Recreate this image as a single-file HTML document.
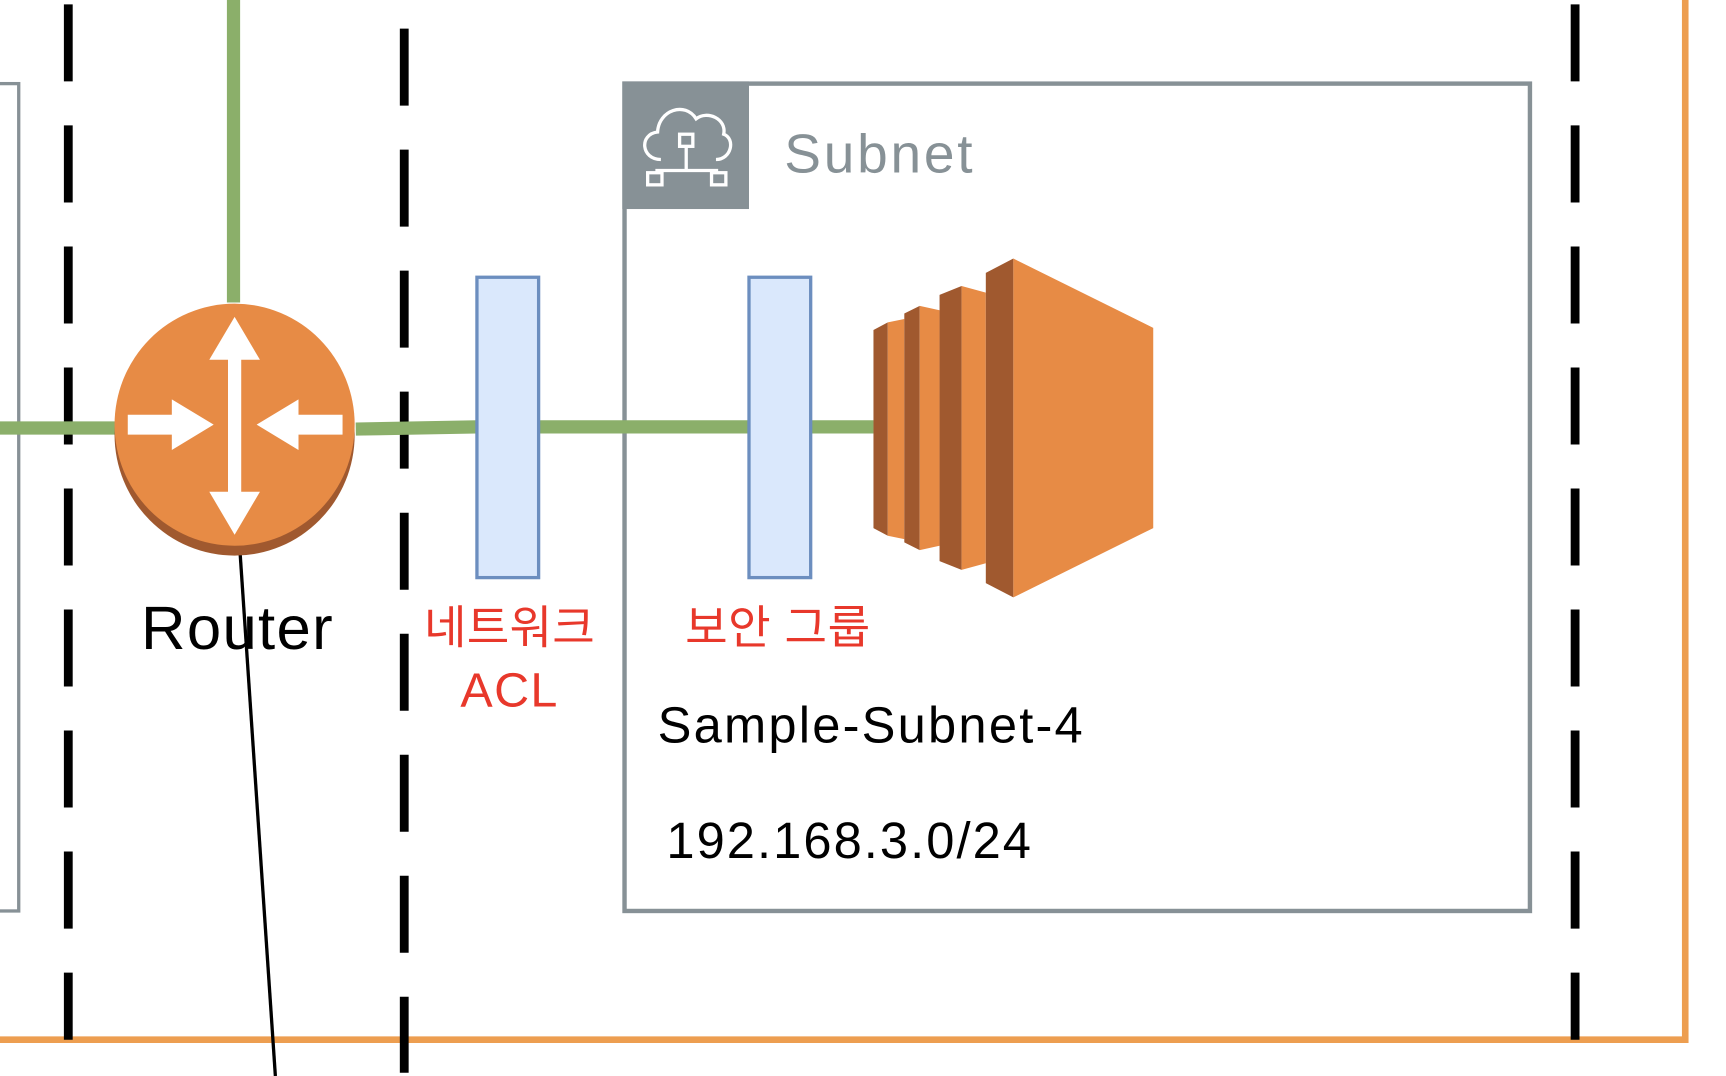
<!DOCTYPE html>
<html><head><meta charset="utf-8"><style>
html,body{margin:0;padding:0;background:#fff;width:1726px;height:1076px;overflow:hidden}
svg{display:block}
</style></head><body>
<svg width="1726" height="1076" viewBox="0 0 1567 978" preserveAspectRatio="none" xmlns="http://www.w3.org/2000/svg">
<rect width="1567" height="978" fill="#fff"/>
<rect x="-20" y="76" width="37" height="752" fill="none" stroke="#879196" stroke-width="3"/>
<path d="M0 945 H1530 V0" fill="none" stroke="#ED9E50" stroke-width="6"/>
<line x1="62" y1="4" x2="62" y2="945" stroke="#000" stroke-width="8" stroke-dasharray="70 40"/>
<line x1="367" y1="26" x2="367" y2="975" stroke="#000" stroke-width="8" stroke-dasharray="70 40"/>
<line x1="1430" y1="4" x2="1430" y2="945" stroke="#000" stroke-width="8" stroke-dasharray="70 40"/>
<rect x="567" y="76" width="822" height="752" fill="none" stroke="#879196" stroke-width="4"/>
<rect x="565" y="74" width="115" height="116" fill="#879196"/>
<g fill="none" stroke="#fff" stroke-width="3">
<path d="M600 145 C582 145 580 122 597 120 C598 100 622 92 632 108 C642 100 660 108 657 122 C668 126 664 145 650 145"/>
<rect x="617" y="122" width="12" height="11"/>
<line x1="623" y1="133" x2="623" y2="155"/>
<line x1="595" y1="155" x2="652" y2="155"/>
<rect x="588" y="157" width="13" height="11"/>
<rect x="646" y="157" width="13" height="11"/>
</g>
<text x="712" y="157" font-family="Liberation Sans, sans-serif" font-size="50" fill="#879196" textLength="171">Subnet</text>
<g stroke="#8BAF6A" stroke-width="12">
<line x1="212" y1="0" x2="212" y2="275"/>
<line x1="0" y1="389" x2="105" y2="389"/>
<line x1="323" y1="390" x2="433" y2="388"/>
<line x1="489" y1="388" x2="680" y2="388"/>
<line x1="736" y1="388" x2="793" y2="388"/>
</g>
<line x1="218" y1="503" x2="250" y2="978" stroke="#000" stroke-width="3"/>
<ellipse cx="213" cy="395" rx="109" ry="110" fill="#A0592F"/>
<ellipse cx="213" cy="386" rx="109" ry="110" fill="#E78B45"/>
<g fill="#fff">
<polygon points="213,288 236,327 219,327 219,447 236,447 213,486 190,447 207,447 207,327 190,327"/>
<polygon points="116,377 156,377 156,363 194,386 156,409 156,395 116,395"/>
<polygon points="311,377 271,377 271,363 233,386 271,409 271,395 311,395"/>
</g>
<text x="128" y="590" font-family="Liberation Sans, sans-serif" font-size="56" fill="#000" textLength="174">Router</text>
<rect x="433" y="252" width="56" height="273" fill="#DAE8FC" stroke="#6C8EBF" stroke-width="3"/>
<rect x="680" y="252" width="56" height="273" fill="#DAE8FC" stroke="#6C8EBF" stroke-width="3"/>
<g font-family="Liberation Sans, 'Noto Sans CJK KR', sans-serif" font-size="42" fill="#E8382B">
<text x="385" y="585" textLength="155">네트워크</text>
<text x="418" y="642" font-size="44" textLength="88">ACL</text>
<text x="622" y="585" textLength="168">보안 그룹</text>
</g>
<polygon points="793,300 806,293 806,487 793,480" fill="#A0592F"/>
<polygon points="806,293 821,290 821,490 806,487" fill="#E78B45"/>
<polygon points="821,285 835,278 835,500 821,493" fill="#A0592F"/>
<polygon points="835,278 853,282 853,496 835,500" fill="#E78B45"/>
<polygon points="853,268 873,260 873,518 853,510" fill="#A0592F"/>
<polygon points="873,260 895,266 895,512 873,518" fill="#E78B45"/>
<polygon points="895,248 920,235 920,543 895,530" fill="#A0592F"/>
<polygon points="920,235 1047,298 1047,480 920,543" fill="#E78B45"/>
<g font-family="Liberation Sans, sans-serif" font-size="46" fill="#000">
<text x="597" y="675" textLength="386">Sample-Subnet-4</text>
<text x="605" y="780" textLength="331">192.168.3.0/24</text>
</g>
</svg>
</body></html>
